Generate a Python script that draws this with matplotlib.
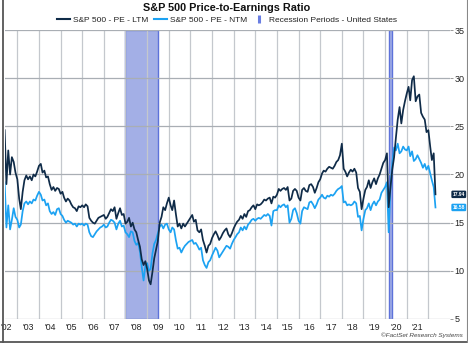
import matplotlib
matplotlib.use('Agg')
import matplotlib.pyplot as plt
import numpy as np
import pandas as pd
from matplotlib.lines import Line2D

plt.rcParams['font.family'] = ['Liberation Sans', 'DejaVu Sans']

# Monthly values, Jun 2002 .. May 2022
pe_ltm = [
    24.6, 19.0, 22.5, 20.0, 21.8, 21.3, 20.2,                          # 2002
    19.5, 17.5, 16.4, 18.2, 19.4, 19.9, 19.5, 19.8, 19.4, 20.0, 19.8, 20.3,  # 2003
    20.9, 21.1, 20.2, 20.4, 19.7, 19.8, 19.0, 18.4, 18.7, 18.3, 18.6, 18.5,  # 2004
    18.0, 18.2, 17.6, 17.2, 17.5, 17.3, 16.9, 16.6, 16.5, 16.2, 16.7, 16.6,  # 2005
    16.8, 16.6, 16.9, 16.7, 15.5, 15.2, 15.0, 14.9, 15.2, 15.5, 15.6, 15.7,  # 2006
    15.8, 15.4, 15.6, 16.0, 16.4, 16.2, 16.6, 15.4, 16.0, 16.5, 15.8, 15.9,  # 2007
    14.9, 15.1, 15.5, 14.6, 15.0, 14.3, 14.0, 13.2, 12.5, 11.2, 10.6, 11.0,  # 2008
    10.2, 9.0, 8.6, 9.9, 11.3, 12.2, 13.1, 15.0, 15.6, 16.6, 16.3, 17.0,     # 2009
    17.6, 16.8, 16.3, 17.3, 15.9, 14.6, 14.9, 14.4, 14.9, 14.6, 14.9, 15.2,  # 2010
    15.5, 15.8, 15.1, 15.3, 14.2, 14.0, 14.3, 13.2, 12.6, 11.9, 12.6, 12.8,  # 2011
    13.4, 13.8, 14.1, 13.7, 13.2, 13.5, 13.9, 14.2, 14.4, 13.8, 13.5, 13.9,  # 2012
    14.4, 14.8, 15.1, 15.3, 15.7, 15.4, 15.9, 15.6, 16.2, 16.3, 16.6, 16.8,  # 2013
    16.4, 16.9, 16.8, 16.9, 17.1, 17.4, 17.3, 17.5, 17.6, 17.0, 17.7, 17.6,  # 2014
    17.9, 18.5, 18.3, 18.5, 18.6, 18.4, 18.7, 17.3, 17.5, 18.3, 18.5, 18.3,  # 2015
    17.6, 17.3, 18.4, 18.6, 18.3, 18.2, 18.9, 19.0, 18.7, 18.1, 18.6, 19.2,  # 2016
    19.5, 20.1, 20.4, 20.3, 20.6, 20.8, 20.7, 20.6, 20.9, 21.3, 21.5, 22.0,  # 2017
    23.2, 20.6, 20.3, 19.8, 20.2, 20.5, 20.3, 20.6, 20.2, 18.6, 18.2, 16.4,  # 2018
    17.5, 18.4, 18.7, 19.4, 18.6, 19.2, 19.6, 19.0, 19.6, 20.0, 20.6, 21.2,  # 2019
    21.5, 22.2, 16.6, 18.7, 20.5, 21.8, 23.8, 25.7, 27.0, 25.3, 26.7, 27.6,  # 2020
    28.4, 29.1, 27.7, 29.8, 30.2, 27.6, 28.1, 28.3, 26.4, 26.0, 25.7, 24.4,  # 2021
    24.6, 22.9, 21.5, 22.2, 17.94,                                      # 2022
]
pe_ntm = [
    19.2, 14.5, 16.8, 14.3, 15.3, 16.5, 15.6,                          # 2002
    15.3, 14.5, 14.8, 16.2, 17.0, 17.2, 16.9, 17.2, 17.0, 17.4, 17.3, 17.8,  # 2003
    18.2, 17.9, 17.3, 17.4, 16.8, 17.0, 16.2, 15.9, 16.1, 15.8, 16.4, 16.5,  # 2004
    15.9, 15.7, 15.3, 15.0, 15.2, 15.1, 15.0, 14.8, 14.9, 14.6, 14.9, 14.8,  # 2005
    14.9, 14.7, 14.9, 14.8, 14.0, 13.6, 13.5, 13.8, 14.1, 14.3, 14.5, 14.6,  # 2006
    14.8, 14.5, 14.6, 15.0, 15.3, 15.2, 15.0, 14.3, 14.9, 15.2, 14.6, 14.7,  # 2007
    14.0, 13.8, 13.5, 14.1, 14.0, 13.1, 12.7, 12.9, 12.0, 10.4, 9.0, 10.5,   # 2008
    10.8, 10.0, 10.2, 11.8, 12.8, 13.2, 13.9, 14.6, 14.8, 14.4, 14.8, 14.9,  # 2009
    14.3, 14.0, 14.5, 14.3, 13.2, 12.3, 12.4, 11.9, 12.3, 12.6, 12.8, 13.0,  # 2010
    13.1, 13.2, 12.8, 12.9, 12.6, 12.2, 12.4, 11.1, 10.6, 10.3, 10.9, 11.1,  # 2011
    11.6, 12.0, 12.4, 12.1, 11.4, 11.7, 12.0, 12.3, 12.6, 12.5, 12.3, 12.8,  # 2012
    13.2, 13.5, 13.8, 14.0, 14.5, 14.2, 14.6, 14.3, 14.8, 15.0, 15.3, 15.4,  # 2013
    15.2, 15.4, 15.5, 15.4, 15.6, 15.8, 15.7, 15.9, 15.7, 14.7, 16.2, 16.3,  # 2014
    16.3, 16.8, 16.6, 16.8, 16.9, 16.6, 16.8, 15.0, 15.4, 16.3, 16.5, 16.0,  # 2015
    15.2, 14.9, 16.2, 16.6, 16.5, 16.4, 17.1, 17.2, 16.9, 16.5, 16.9, 17.4,  # 2016
    17.6, 17.9, 17.6, 17.5, 17.8, 17.7, 17.9, 17.8, 18.0, 18.3, 18.5, 18.6,  # 2017
    18.8, 17.1, 17.2, 16.8, 16.9, 16.8, 16.9, 17.2, 17.0, 15.6, 15.7, 14.2,  # 2018
    15.4, 16.3, 16.5, 17.0, 16.3, 16.9, 17.2, 16.8, 17.2, 17.4, 18.1, 18.4,  # 2019
    18.7, 19.2, 14.0, 18.7, 21.2, 22.8, 22.5, 23.2, 22.2, 22.4, 22.9, 22.6,  # 2020
    22.5, 22.9, 21.9, 22.4, 21.4, 21.6, 22.0, 21.6, 21.2, 20.7, 21.1, 20.5,  # 2021
    20.9, 20.1, 19.4, 18.7, 16.58,                                      # 2022
]
start_month = '2002-06-01'
recessions = [('2008-01-01', '2009-06-30'), ('2020-03-01', '2020-04-30')]
year_labels = ["'02", "'03", "'04", "'05", "'06", "'07", "'08", "'09", "'10", "'11",
               "'12", "'13", "'14", "'15", "'16", "'17", "'18", "'19", "'20", "'21"]
y_ticks = [5, 10, 15, 20, 25, 30, 35]
series_names = ['S&P 500 - PE - LTM', 'S&P 500 - PE - NTM', 'Recession Periods - United States']

C_LTM = '#0f2b48'
C_NTM = '#1ca2f2'
C_REC = '#a3afe6'
C_REC_EDGE = '#5d72da'


def to_dec(d):
    d = pd.to_datetime(d)
    return d.year + (d.dayofyear - 1) / 365.25


dates = pd.date_range(start_month, periods=len(pe_ltm), freq='MS')
x = np.asarray(to_dec(dates), dtype=float)

fig = plt.figure(figsize=(4.68, 3.43), dpi=100)
ax = fig.add_axes([5 / 468, 1 - 319 / 343, 445 / 468, 289 / 343])

for a, b in recessions:
    ax.axvspan(to_dec(a), to_dec(b), facecolor=C_REC, edgecolor=C_REC_EDGE, lw=1.0, zorder=1)

ax.plot(x, pe_ltm, color=C_LTM, lw=1.25, zorder=4)
ax.plot(x, pe_ntm, color=C_NTM, lw=1.25, zorder=3)

ax.set_xlim(2002.43, 2023.0)
ax.set_ylim(5, 35)

first_year = 2002
ax.set_xticks([first_year + 1 + i for i in range(len(year_labels))])
ax.set_xticklabels([])
ax.set_xticks([first_year + 0.5 + i for i in range(len(year_labels))], minor=True)
ax.set_xticklabels(year_labels, minor=True, fontsize=6.3, color='#222222')
ax.tick_params(axis='x', which='both', length=0, pad=3)
ax.grid(axis='x', which='major', color='#c4c8cd', lw=0.9, zorder=0)

ax.yaxis.tick_right()
ax.set_yticks(y_ticks)
ax.set_yticklabels([str(v) for v in y_ticks], fontsize=6.5, color='#222222')
ax.tick_params(axis='y', length=2, width=0.6, color='#888888', pad=1)
ax.grid(axis='y', color='#a9aeb4', lw=0.9, zorder=0)
for s in ax.spines.values():
    s.set_visible(False)

# end-value labels
ax.text(2023.12, pe_ltm[-1], f'{pe_ltm[-1]:.2f}', fontsize=3.6, color='white', va='center',
        ha='left', clip_on=False, fontweight='bold',
        bbox=dict(boxstyle='round,pad=0.25', fc=C_LTM, ec='none'))
ax.text(2023.12, pe_ntm[-1], f'{pe_ntm[-1]:.2f}', fontsize=3.6, color='white', va='center',
        ha='left', clip_on=False, fontweight='bold',
        bbox=dict(boxstyle='round,pad=0.25', fc=C_NTM, ec='none'))

fig.text(227 / 468, 1 - 8 / 343, 'S&P 500 Price-to-Earnings Ratio', ha='center', va='center',
         fontsize=7.8, fontweight='bold', color='#111111')

handles = [Line2D([], [], color=C_LTM, lw=1.5),
           Line2D([], [], color=C_NTM, lw=1.5),
           Line2D([], [], color='#6a7ee2', marker='|', linestyle='none', markersize=6, markeredgewidth=2.2)]
fig.legend(handles, series_names, loc='center', bbox_to_anchor=(227 / 468, 1 - 20 / 343), ncol=3,
           frameon=False, fontsize=6, handlelength=1.6, handletextpad=0.4, columnspacing=0.6,
           borderpad=0, labelcolor='#222222')

fig.text(463 / 468, 1 - 335 / 343, '\u00a9FactSet Research Systems', ha='right', va='center',
         fontsize=4.6, style='italic', color='#444444')

# outer frame
fig.add_artist(Line2D([2.5 / 468, 2.5 / 468], [0, 1], transform=fig.transFigure, color='#555555', lw=1.3))
fig.add_artist(Line2D([0, 1], [1.2 / 343, 1.2 / 343], transform=fig.transFigure, color='#555555', lw=1.3))
fig.add_artist(Line2D([466.5 / 468, 466.5 / 468], [0, 1], transform=fig.transFigure, color='#888888', lw=0.8))

fig.savefig('out.png', dpi=100)
